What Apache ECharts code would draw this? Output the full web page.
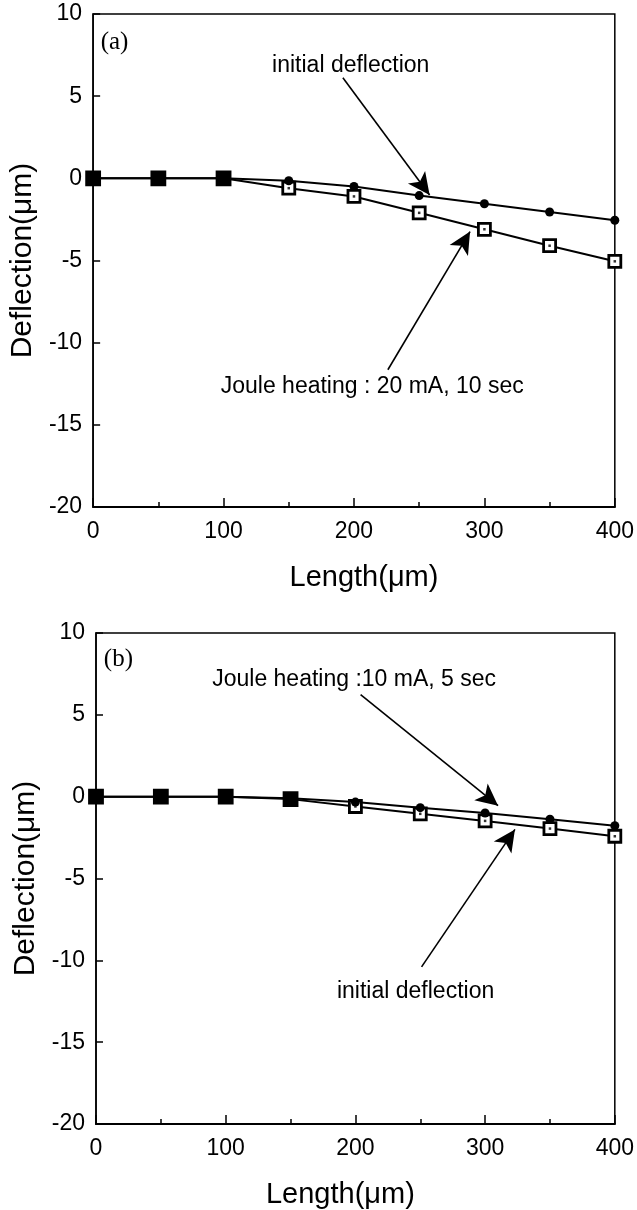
<!DOCTYPE html>
<html>
<head>
<meta charset="utf-8">
<script src="https://cdn.jsdelivr.net/npm/echarts@6/dist/echarts.min.js"></script>
<style>
  html, body { margin: 0; padding: 0; background: #fff; }
  #chart { width: 637px; height: 1210px; }
</style>
</head>
<body>
<div id="chart"></div>
<script>
// x positions along the beam (um)
const lengths = [0, 50, 100, 150, 200, 250, 300, 350, 400];

// panel (a): deflection (um)
const aInitial = [0, 0, 0, -0.15, -0.5, -1.05, -1.55, -2.05, -2.55];
const aJoule = [0, 0, 0, -0.6, -1.1, -2.1, -3.1, -4.1, -5.05];

// panel (b): deflection (um)
const bJoule = [0, 0, 0, -0.1, -0.33, -0.67, -1.0, -1.38, -1.78];
const bInitial = [0, 0, 0, -0.15, -0.6, -1.05, -1.48, -1.95, -2.42];

// annotation texts, in data units [x, y]
const aNotes = [
  { text: "initial deflection", at: [197.5, 6.85] },
  { text: "Joule heating : 20 mA, 10 sec", at: [214, -12.7] },
];
const aArrows = [
  [[191.5, 6.12], [258, -1.01]],
  [[226, -11.65], [289, -3.24]],
];
const bNotes = [
  { text: "Joule heating :10 mA, 5 sec", at: [199, 7.15] },
  { text: "initial deflection", at: [246.4, -11.9] },
];
const bArrows = [
  [[204, 6.24], [310, -0.55]],
  [[251, -10.4], [323, -2.0]],
];
const panelTags = [
  { text: "(a)", at: [16.4, 8.25] },
  { text: "(b)", at: [17.3, 8.36] },
];

const sans = "'Liberation Sans', Arial, Helvetica, sans-serif";
const serif = "'Liberation Serif', 'Times New Roman', serif";

const chart = echarts.init(document.getElementById("chart"), null, { renderer: "canvas" });

function xAxisFor(gi, padL) {
  return {
    gridIndex: gi,
    type: "value",
    min: 0,
    max: 400,
    interval: 100,
    axisLine: { show: true, onZero: false, lineStyle: { color: "#000", width: 2 } },
    axisTick: { show: true, inside: true, length: 9, lineStyle: { color: "#000", width: 1.5 } },
    minorTick: { show: true, splitNumber: 2, length: 5, lineStyle: { color: "#000", width: 1.5 } },
    splitLine: { show: false },
    axisLabel: { color: "#000", fontSize: 23, margin: 13, fontFamily: sans },
    name: "Length(μm)",
    nameLocation: "middle",
    nameGap: 56,
    nameTextStyle: { color: "#000", fontSize: 29, fontFamily: sans, padding: padL },
  };
}

function yAxisFor(gi, gap) {
  return {
    gridIndex: gi,
    type: "value",
    min: -20,
    max: 10,
    interval: 5,
    axisLine: { show: true, onZero: false, lineStyle: { color: "#000", width: 1.5 } },
    axisTick: { show: true, inside: true, length: 7, lineStyle: { color: "#000", width: 1.5 } },
    splitLine: { show: false },
    axisLabel: { color: "#000", fontSize: 23, margin: 11, fontFamily: sans },
    name: "Deflection(μm)",
    nameLocation: "middle",
    nameGap: gap,
    nameTextStyle: { color: "#000", fontSize: 30, fontFamily: sans },
  };
}

function squareData(ys, nFilled) {
  return lengths.map((x, i) =>
    i < nFilled
      ? { value: [x, ys[i]], symbolSize: 13, itemStyle: { color: "#000" } }
      : [x, ys[i]]
  );
}

function panelSeries(gi, circles, squares, nFilled, notes, arrows, tag) {
  return [
    {
      type: "line",
      xAxisIndex: gi,
      yAxisIndex: gi,
      data: squareData(squares, nFilled),
      symbol: "rect",
      symbolSize: 12,
      itemStyle: { color: "#fff", borderColor: "#000", borderWidth: 2.8 },
      lineStyle: { color: "#000", width: 2 },
      markLine: {
        silent: true,
        symbol: ["none", "arrow"],
        symbolSize: [16, 22],
        lineStyle: { color: "#000", width: 1.6, type: "solid" },
        itemStyle: { color: "#000" },
        label: { show: false },
        data: arrows.map((a) => [{ coord: a[0] }, { coord: a[1] }]),
      },
      markPoint: {
        silent: true,
        symbol: "circle",
        symbolSize: 0,
        label: {
          show: true,
          position: "inside",
          color: "#000",
          fontSize: 23,
          fontFamily: sans,
          formatter: (p) => p.name,
        },
        data: notes
          .map((n) => ({ name: n.text, coord: n.at }))
          .concat([
            {
              name: tag.text,
              coord: tag.at,
              label: { fontFamily: serif, fontSize: 25 },
            },
          ]),
      },
    },
    {
      type: "scatter",
      xAxisIndex: gi,
      yAxisIndex: gi,
      data: lengths.map((x, i) => [x, squares[i]]).slice(nFilled),
      symbol: "rect",
      symbolSize: 2.5,
      itemStyle: { color: "#000" },
      z: 4,
    },
    {
      type: "line",
      xAxisIndex: gi,
      yAxisIndex: gi,
      data: lengths.map((x, i) => [x, circles[i]]),
      symbol: "circle",
      symbolSize: 9,
      itemStyle: { color: "#000" },
      lineStyle: { color: "#000", width: 2 },
      z: 3,
    },
  ];
}

chart.setOption({
  animation: false,
  backgroundColor: "#fff",
  grid: [
    { left: 92, top: 14, width: 525, height: 493, show: true, borderColor: "#000", borderWidth: 1.5 },
    { left: 96, top: 633, width: 527, height: 494, show: true, borderColor: "#000", borderWidth: 1.5 },
  ],
  xAxis: [xAxisFor(0, [0, 0, 0, 20]), xAxisFor(1, [0, 30, 0, 0])],
  yAxis: [yAxisFor(0, 51), yAxisFor(1, 55)],
  series: [
    ...panelSeries(0, aInitial, aJoule, 3, aNotes, aArrows, panelTags[0]),
    ...panelSeries(1, bJoule, bInitial, 4, bNotes, bArrows, panelTags[1]),
  ],
});
</script>
</body>
</html>
